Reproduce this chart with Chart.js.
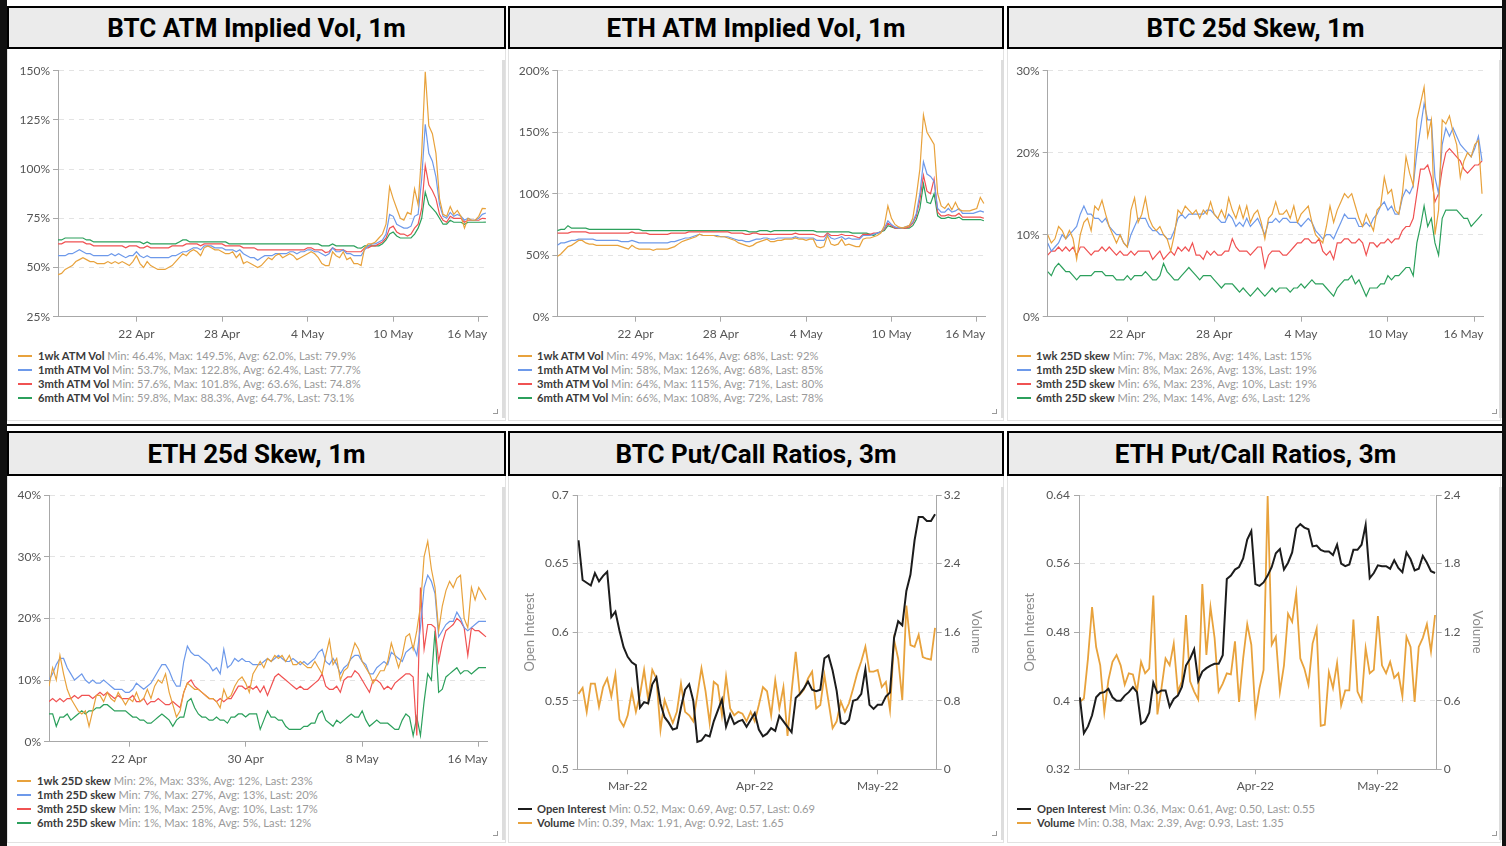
<!DOCTYPE html>
<html><head><meta charset="utf-8">
<script src="https://cdn.jsdelivr.net/npm/chart.js@4.4.1/dist/chart.umd.min.js"></script>
<style>
html,body{margin:0;padding:0;background:#fff;}
body{width:1506px;height:846px;position:relative;overflow:hidden;font-family:Lato,sans-serif;}
.blk{position:absolute;background:#111;}
.hdr{position:absolute;box-sizing:border-box;border:2px solid #000;background:#ebebeb;display:flex;align-items:center;justify-content:center;font:700 26px Roboto,sans-serif;color:#000;}
.bod{position:absolute;box-sizing:border-box;border:1px solid #e2e2e2;border-top:none;background:#fff;}
.sbar{position:absolute;background:#dddddd;width:3px;}
.grip{position:absolute;width:5px;height:5px;box-sizing:border-box;border-right:1.5px solid #999;border-bottom:1.5px solid #999;}
canvas{position:absolute;}
.legend{position:absolute;font:11.2px Lato,sans-serif;color:#9a9a9a;white-space:nowrap;}
.legend .row{height:14px;line-height:14px;position:relative;}
.legend .mk{position:absolute;left:0;top:6px;width:14px;height:2px;}
.legend .txt{position:absolute;top:0;}
.legend b{color:#3a3a3a;font-weight:700;}
</style></head>
<body>
<script>
// ================= DATA =================
// 1-month panels: 6-hourly samples starting 16 Apr 12:00 (x in days since 1 Apr 00:00)
const volStartDay = 15.5;
const volStepDays = 0.25;
const volTickDays = [21, 27, 33, 39, 45];
const volTickLabels = ['22 Apr', '28 Apr', '4 May', '10 May', '16 May'];
const ethSkewTickDays = [21, 29, 37, 45];
const ethSkewTickLabels = ['22 Apr', '30 Apr', '8 May', '16 May'];

const atmNames = ['1wk ATM Vol', '1mth ATM Vol', '3mth ATM Vol', '6mth ATM Vol'];
const skewNames = ['1wk 25D skew', '1mth 25D skew', '3mth 25D skew', '6mth 25D skew'];

const btcAtm1wk = [46.4,47,49,50,51,53,54,55,54,53, 53,52,52,52,53,52,53,52,53,52, 51,53,56,52,50,53,51,50,49,49,
  49,50,51,53,55,57,56,58,59,58, 56,60,61,60,59,59,58,57,57,58, 55,57,52,53,52,51,50,51,53,55, 54,56,57,55,56,57,56,54,55,56,
  57,58,57,55,52,51,51,58,56,55, 58,54,55,52,52,51,60,62,62,63, 65,67,72,91,85,80,75,74,78,77, 90,82,108,149.5,122,118,108,85,77,76,
  81,77,79,76,70,75,74,74,76,80, 79.9];
const btcAtm1mth = [56,56,56,57,57,58,59,58,57,57, 56,56,56,56,56,57,56,57,56,55, 56,56,58,56,55,56,55,55,55,55,
  55,55,56,56,57,58,58,59,60,60, 59,61,61,61,60,60,60,59,59,59, 58,59,57,56,55,55,53.7,55,56,56, 56,57,57,57,57,58,58,57,58,58,
  59,59,58,58,57,56,57,60,58,58, 59,57,57,56,56,56,59,61,62,62, 63,64,67,77,76,72,71,70,70,71, 76,77,95,122.8,108,104,96,82,76,75,
  78,76,77,76,74,75,74,74,75,77, 77.7];
const btcAtm3mth = [62,62,63,63,63,63,63,63,62,62, 61,61,61,61,61,61,61,61,61,60, 61,61,61,60,60,61,60,60,60,60,
  60,60,61,61,61,61,62,62,62,62, 61,62,62,62,62,62,62,61,61,61, 61,61,60,60,60,60,59,59,59,59, 59,59,59,59,59,59,59,59,59,59,
  60,60,59,59,59,57.6,58,60,59,59, 59,58,58,58,58,58,60,60,61,61, 62,63,65,70,71,68,67,67,66,67, 70,72,80,101.8,92,89,85,77,74,73,
  76,75,75,75,73,74,74,74,74,75, 74.8];
const btcAtm6mth = [64,64,65,65,65,65,65,65,64,64, 63,63,63,63,63,63,63,63,63,63, 63,63,63,63,62,63,62,62,62,62,
  62,62,62,62,63,64,64,63,63,63, 63,63,63,63,63,63,63,63,62,62, 62,62,62,62,62,62,62,62,62,62, 62,62,62,62,62,62,62,62,62,62,
  62,62,62,62,61,61,61,62,61,61, 61,61,61,61,60,59.8,61,61,61,61, 61,62,64,67,68,66,65,65,65,65, 67,70,75,88.3,82,80,78,75,72,72,
  74,73,73,73,72,73,73,73,73,73, 73.1];
const btcAtmStats = ['Min: 46.4%, Max: 149.5%, Avg: 62.0%, Last: 79.9%', 'Min: 53.7%, Max: 122.8%, Avg: 62.4%, Last: 77.7%',
  'Min: 57.6%, Max: 101.8%, Avg: 63.6%, Last: 74.8%', 'Min: 59.8%, Max: 88.3%, Avg: 64.7%, Last: 73.1%'];
const btcAtmTicks = [25, 50, 75, 100, 125, 150];

const ethAtm1wk = [49,51,54,57,58,60,62,62,60,59, 59,58,58,58,58,58,58,58,57,56, 55,58,56,55,55,55,55,54,55,55,
  55,55,56,57,59,61,62,63,64,65, 67,66,66,66,66,65,65,65,64,63, 62,60,59,58,57,58,60,61,62,63, 61,61,62,62,63,63,63,64,63,63,
  62,63,63,57,56,57,66,59,58,59, 63,58,59,58,57,57,63,64,64,65, 66,68,74,90,80,75,73,72,73,74, 80,98,120,164,150,145,140,100,90,88,
  92,87,93,87,86,86,86,87,88,97, 92];
const ethAtm1mth = [58,60,60,61,62,62,63,63,63,63, 63,62,62,62,62,62,62,62,61,61, 61,62,61,60,60,60,60,60,60,60,
  60,60,61,61,62,63,64,64,65,66, 67,66,66,66,66,66,65,65,65,64, 63,62,62,61,61,62,63,63,64,64, 63,63,64,64,64,64,64,65,64,64,
  64,64,64,62,62,62,67,64,63,64, 65,63,64,63,63,63,66,66,66,67, 68,69,72,78,75,73,72,72,73,74, 77,84,100,126,116,114,110,88,85,85,
  88,85,86,88,84,84,84,84,85,86, 85];
const ethAtm3mth = [68,68,68,68,69,69,69,69,69,68, 68,68,68,68,68,68,68,68,68,68, 68,69,68,68,68,68,67,67,67,67,
  67,67,68,68,68,68,68,69,69,69, 69,69,69,69,69,69,69,69,69,68, 68,68,68,67,67,68,68,67,67,67, 67,67,67,67,67,67,67,68,67,67,
  67,67,67,66,65,65,68,66,66,66, 67,66,66,66,65,64,67,67,67,68, 68,69,71,76,74,72,72,72,72,73, 76,82,95,115,102,100,112,85,82,82,
  83,82,82,84,81,81,81,81,81,81, 80];
const ethAtm6mth = [70,71,71,74,72,72,72,72,72,71, 71,71,71,71,71,71,71,71,71,71, 71,71,71,71,70,70,70,70,70,70,
  70,70,70,70,70,70,70,70,70,70, 70,70,70,70,70,70,70,70,70,70, 70,70,70,70,69,69,69,70,70,70, 69,70,70,70,70,70,70,70,70,70,
  70,70,70,69,69,69,69,69,69,69, 69,69,69,68,68,68,68,68,67,66, 68,69,70,74,73,72,72,72,72,72, 74,79,88,108,93,92,100,82,80,80,
  81,80,80,81,79,79,79,79,79,79, 78];
const ethAtmStats = ['Min: 49%, Max: 164%, Avg: 68%, Last: 92%', 'Min: 58%, Max: 126%, Avg: 68%, Last: 85%',
  'Min: 64%, Max: 115%, Avg: 71%, Last: 80%', 'Min: 66%, Max: 108%, Avg: 72%, Last: 78%'];
const ethAtmTicks = [0, 50, 100, 150, 200];

const btcSkew1wk = [10,9,9.5,11,10.5,9.5,10.5,9.5,7,10, 11.5,12,10.5,13.5,13,14.2,12.5,11,10,9, 10,9,8.5,13,14.5,11.5,12.5,14.5,12,11,
  10.5,11,10,9.5,8,10,13,12.5,13.5,13, 12.5,13,12,13,12.5,14,12.5,12,13,12, 14.5,13,12,13.5,12,13.5,11.5,12.5,13,11.5,
  9.5,12,12.5,14,12.5,12.5,13,12,13.5,11.5, 12.5,13,13.5,11.5,10,9.5,9,11,13.5,11.5, 13,14,15,14.5,15,13.5,12,11,12.5,11.5,
  10.5,13,13.5,17,15,15.5,13,12.5,15,19.5, 17.5,16,24,26,28,22,24,10,13,24, 23.5,24.5,22.5,21,17,19,20,19.5,21,21.5, 15];
const btcSkew1mth = [9,8,8.5,9,10,9.5,10,10.5,11,12.5, 13.5,12.5,12.5,12,12,11.5,12,11,10.5,10, 10,9,8.5,10,11,12,12,12,11,10.5,
  10.5,10,10,9.5,9.5,10.5,12,12.5,12,12.5, 12.5,12.5,12.5,12.5,13,13,12.5,12,11.5,11.5, 12.5,12,11,11.5,11,12,11,11.5,12,11,
  10,11.5,11.5,12,11.5,12,12,11.5,11.5,11.5, 11,11.5,12,11.5,10.5,10,9.5,10,10,9.5, 10.5,11.5,12.5,12,12,12,11,11,11.5,11,
  12,12.5,13.5,14,13,13.5,12.5,12.5,14.5,15.5, 15,16,20,23,26,24,24,17,15,21, 23,22,23,22,21,20.5,20,19.5,20.5,22, 19];
const btcSkew3mth = [7.5,8,8,8.5,8,8.5,8,8.5,7.5,8.5, 8.5,8,7.5,8,8,8.5,8,8.5,8,7.5, 8,7.5,7.5,8,7.5,8,8,8,8,7,
  7.5,8,7,7.5,8,7.5,8.5,8,8.5,8, 9,7.5,7.5,7,8,7.5,8,7.5,7.5,8, 8,9.5,8.5,8,8,8,7.5,8,8.5,8.5,
  6,7.5,8,8,8,7.5,7.5,8,8.5,9, 9,9.5,9.5,9,9,9.5,8,7.5,8,7, 9,9,9.5,9.5,9,9,9.5,9,7.5,9,
  9,8.5,9,9,9.5,9,9.5,9.5,10.5,11, 11,12,15,18,18,18.5,17,14,15,18, 20,20.5,20,19.5,19,18,17.5,18,18.5,18.5, 19];
const btcSkew6mth = [5.5,5,6,6.5,6,5.5,5.5,5,4.5,5, 5,5,5,5.5,5.5,5.5,5,5,5,4.5, 4.5,4.5,5,4.5,5,5,5,5.5,5,4.5,
  4.5,5,6.5,5.5,5,4.5,4.5,5,5.5,6, 5.5,5,4.5,5,5,5,4.5,4,3.5,4, 4,4,3.5,3,3.5,3,2.5,3,3.5,3,
  2.5,3,3.5,3,3.5,3.5,3.5,3,3.5,3.5, 4,3.5,4,4.5,4,4,4,3.5,3,2.5, 3.5,4,4.5,4.5,5,4,4.5,3.5,2.5,3.5,
  3.5,3.5,4,4,5,4.5,5,5,5.5,6, 6,5,9,11,13.5,11,12,9,7.5,12, 13,13,13,13,12.5,12,12,11,11.5,12, 12.5];
const btcSkewStats = ['Min: 7%, Max: 28%, Avg: 14%, Last: 15%', 'Min: 8%, Max: 26%, Avg: 13%, Last: 19%',
  'Min: 6%, Max: 23%, Avg: 10%, Last: 19%', 'Min: 2%, Max: 14%, Avg: 6%, Last: 12%'];
const btcSkewTicks = [0, 10, 20, 30];

const ethSkew1wk = [9,12,10,14,11,8.5,7,6,5,4.5, 5,2.5,5,7.5,7.5,6.5,8,7,6.5,8, 7,6,7,6.5,8,6.5,7,8.5,7,9,
  10,9.5,11,8,6,4,5,8,9.5,9, 8.5,8.5,8,7.5,7,7,6.5,5.5,8.5,7, 7.5,9,10,10.5,9.5,8,11,12,13,12,
  13.5,13,14,13.5,14,13,14,12.5,12.5,13, 12.5,12,12,13,12,11,14,16.5,12.5,13.5, 10,11.5,12,14,16,15,13,12,11,9.5,
  10.5,11.5,11.5,13,16,14,12,14,17,17.5, 15,18,22,30,32.5,28,25,18,22,24.5, 26,25,26.5,27,20,18.5,25,23,25,24, 23];
const ethSkew1mth = [10,11,12.5,13.5,13.5,12,11,10,10.5,11, 10,9.5,10,9.5,9.5,10,9.5,9,8.5,8.5, 8.5,8,8,8.5,9.5,9,8.5,9,9.5,10.5,
  11.5,12.5,12.5,11.5,10,9,9,13,15.5,14.5, 14,14,13.5,13,12.5,11.5,12,11,15,12, 12.5,13.5,13,13.5,13,13,12.5,12.5,12.5,13,
  13.5,13,13.5,14,13.5,13,13,13.5,13,12.5, 13,12.5,13,13.5,14.5,15,13,12.5,13.5,12.5, 11,12,12.5,13.5,14,14,13,12.5,11,11,
  12,12.5,13,12.5,14.5,14,13.5,13,14.5,15, 15.5,14,18.5,25,27,26,24,17,18,19, 19.5,19.5,21,20,18.5,18,18.5,19,19.5,19.5, 19.5];
const ethSkew3mth = [6.5,7,6.5,7,6.5,7,7,7.5,7,7.5, 7.5,7.5,7,7.5,8,7.5,8,7.5,7,7.5, 7,7,7,7.5,6.5,6.5,7,6,6.5,6.5,
  7,6.5,6,6,6.5,6,5.5,8,9.5,10, 9,8.5,8,7.5,7,7,6.5,7,6.5,7, 7,8,9,9,8.5,9,8.5,9,8,9,
  7.5,9,10.5,11,10.5,10,9.5,9,8.5,9, 8.5,8.5,9,9.5,10,11,9,8.5,8.5,9, 8,10,10.5,10.5,11.5,11,10,9,8,10,
  10,9.5,8.5,9,8.5,9.5,10,10.5,11,11, 10.5,1,25,15,19,19,18.5,13,16,18, 18.5,19,20,19.5,18.5,14,18.5,18,18,17.5, 17];
const ethSkew6mth = [4.5,4.5,2.5,4,4,4.5,3.5,4,4.5,5, 4.5,5,5,5.5,5.5,6,6,5.5,5,5, 5,5,4.5,4,4,3.5,3.5,3,3,3.5,
  4,4.5,4,3.5,2.5,3.5,4,4,6.5,7, 5.5,4.5,4,4,3.5,3.5,4,3.5,3.5,3, 4,4,4.5,4.5,4,4.5,4.5,4.5,2,3.5,
  5,4,4,3.5,3.5,2.5,2,2,2,2, 2.5,2.5,3,3,4.5,5,3.5,3,2.5,3.5, 3,3.5,4,4.5,4,4,5,3.5,2.5,3,
  3.5,3,3,3,2.5,2,2,3.5,4.5,4, 1,4,1,6.5,11,10,18,8,8.5,10.5, 11,11.5,12,11,11.5,11.5,11,11.5,12,12, 12];
const ethSkewStats = ['Min: 2%, Max: 33%, Avg: 12%, Last: 23%', 'Min: 7%, Max: 27%, Avg: 13%, Last: 20%',
  'Min: 1%, Max: 25%, Avg: 10%, Last: 17%', 'Min: 1%, Max: 18%, Avg: 5%, Last: 12%'];
const ethSkewTicks = [0, 10, 20, 30, 40];

// 3-month put/call panels: daily samples, x = days since 17 Feb 2022
const pcNames = ['Open Interest', 'Volume'];
const pcTickDays = [12, 43, 73];
const pcTickLabels = ['Mar-22', 'Apr-22', 'May-22'];
const btcPcOI = [0.667,0.638,0.636,0.634,0.643,0.637,0.641,0.644,0.611,0.615, 0.601,0.589,0.582,0.578,0.576,0.545,0.549,0.548,0.562,0.567,
  0.548,0.538,0.534,0.529,0.530,0.545,0.558,0.562,0.550,0.520, 0.521,0.525,0.524,0.535,0.543,0.551,0.531,0.540,0.533,0.535,
  0.536,0.531,0.536,0.541,0.529,0.524,0.526,0.530,0.528,0.539, 0.535,0.531,0.527,0.552,0.555,0.559,0.564,0.558,0.557,0.558,
  0.581,0.583,0.572,0.557,0.534,0.533,0.536,0.550,0.551,0.555, 0.573,0.547,0.544,0.547,0.547,0.553,0.556,0.596,0.608,0.605,
  0.630,0.642,0.667,0.684,0.684,0.681,0.681,0.686];
const btcPcVolume = [0.88,0.95,0.67,1.0,1.0,0.73,0.96,1.06,0.85,1.11, 0.58,0.50,0.63,0.91,0.67,0.87,1.16,0.81,1.16,1.06,
  0.46,0.81,0.67,0.54,0.67,1.0,0.67,0.63,0.56,0.87, 1.18,0.91,0.54,1.02,0.98,0.63,1.08,0.71,0.63,0.67,
  0.65,0.56,0.67,0.56,0.75,0.96,0.91,0.63,1.04,0.71, 0.96,0.39,0.91,1.37,0.87,0.93,1.06,1.14,0.71,0.75,
  1.10,0.79,0.48,0.56,0.79,0.67,0.77,0.94,1.12,1.26, 1.43,1.14,1.14,1.16,0.96,1.02,0.69,1.51,1.29,0.81,
  1.91,1.45,1.43,1.57,1.31,1.29,1.28,1.65];
const btcPcStats = ['Min: 0.52, Max: 0.69, Avg: 0.57, Last: 0.69', 'Min: 0.39, Max: 1.91, Avg: 0.92, Last: 1.65'];
const btcOITicks = [0.5, 0.55, 0.6, 0.65, 0.7];
const btcVolTicks = [0, 0.8, 1.6, 2.4, 3.2];

const ethPcOI = [0.404,0.362,0.370,0.383,0.404,0.409,0.410,0.414,0.404,0.400, 0.400,0.406,0.410,0.416,0.410,0.373,0.376,0.386,0.421,0.409,
  0.412,0.412,0.393,0.402,0.406,0.416,0.441,0.449,0.460,0.423, 0.434,0.438,0.441,0.443,0.443,0.453,0.542,0.546,0.553,0.556,
  0.566,0.588,0.598,0.536,0.534,0.538,0.546,0.556,0.572,0.577, 0.553,0.561,0.573,0.601,0.606,0.602,0.600,0.580,0.581,0.576,
  0.574,0.574,0.570,0.582,0.560,0.557,0.559,0.576,0.576,0.582, 0.605,0.543,0.549,0.558,0.557,0.557,0.554,0.564,0.555,0.550,
  0.573,0.565,0.552,0.554,0.569,0.561,0.551,0.549];
const ethPcVolume = [0.59,0.62,0.97,1.42,1.07,0.91,0.50,0.78,0.94,1.00, 0.91,0.74,0.84,0.83,0.68,0.94,0.84,0.88,1.52,0.48,
  0.71,0.97,0.91,1.10,0.68,0.77,1.35,0.77,0.68,0.61, 1.62,1.00,1.42,1.15,0.68,0.75,0.84,0.83,1.12,0.59,
  0.97,1.27,1.09,0.49,0.71,0.87,2.39,1.09,1.16,0.68, 0.91,1.36,1.29,1.54,0.97,0.88,0.74,1.10,1.23,0.38,
  0.39,0.85,0.71,0.93,0.56,0.69,0.69,1.31,0.68,0.60, 1.06,0.84,0.87,1.34,0.91,0.84,0.94,0.80,0.84,0.64,
  1.16,1.07,0.59,1.07,1.15,1.27,1.03,1.35];
const ethPcStats = ['Min: 0.36, Max: 0.61, Avg: 0.50, Last: 0.55', 'Min: 0.38, Max: 2.39, Avg: 0.93, Last: 1.35'];
const ethOITicks = [0.32, 0.4, 0.48, 0.56, 0.64];
const ethVolTicks = [0, 0.6, 1.2, 1.8, 2.4];

// ================= STYLE / LAYOUT =================
const TENOR_COLORS = ['#e8a23c', '#6d99ea', '#f05252', '#2ca05c'];
const PC_COLORS = ['#1c1c1c', '#e8a23c'];
const AXIS_COL = '#a8a8a8', GRID_COL = '#e3e3e3', TICK_TXT = '#555';
const FONT = 'Lato';

function el(cls, css, html) {
  const d = document.createElement('div');
  d.className = cls; Object.assign(d.style, css);
  if (html !== undefined) d.innerHTML = html;
  document.body.appendChild(d); return d;
}
const px = v => v + 'px';

// frame
const cols = [{x: 7, w: 499}, {x: 508, w: 496}, {x: 1007, w: 497}];
const rows = [{hy: 6, hh: 43, by: 49, bh: 372}, {hy: 431, hh: 45, by: 476, bh: 367}];
const titles = [['BTC ATM Implied Vol, 1m', 'ETH ATM Implied Vol, 1m', 'BTC 25d Skew, 1m'],
                ['ETH 25d Skew, 1m', 'BTC Put/Call Ratios, 3m', 'ETH Put/Call Ratios, 3m']];
rows.forEach((r, ri) => cols.forEach((c, ci) => {
  el('bod', {left: px(c.x), top: px(r.by), width: px(c.w - (ci === 2 ? 3 : 0)), height: px(r.bh)});
  el('hdr', {left: px(c.x), top: px(r.hy), width: px(c.w), height: px(r.hh)}, titles[ri][ci]);
  const sbx = [502, 1001, 1499][ci];
  el('sbar', {left: px(sbx), top: px(r.by + 11), height: px(r.bh - 14)});
  const gx = [493, 992, 1492][ci];
  el('grip', {left: px(gx), top: px(r.by + r.bh - 12)});
}));
el('blk', {left: '0px', top: '424px', width: '1506px', height: '2px'});
el('blk', {left: '0px', top: '0px', width: '7px', height: '846px'});
el('blk', {left: '1502px', top: '0px', width: '4px', height: '846px'});

// keep the last x-axis label inside the plot (right-aligned to the plot edge)
const clampLastLabel = {
  id: 'clampLastLabel',
  beforeDraw(chart) {
    const sc = chart.scales.x;
    if (!sc) return;
    const items = sc.getLabelItems();
    const last = items[items.length - 1];
    if (!last) return;
    const w = chart.ctx.measureText ? (() => { chart.ctx.save(); chart.ctx.font = last.font.string; const m = chart.ctx.measureText(last.label).width; chart.ctx.restore(); return m; })() : 0;
    const x = last.options.translation[0];
    if (x + w / 2 > chart.chartArea.right) {
      last.options.textAlign = 'right';
      last.options.translation = [chart.chartArea.right, last.options.translation[1]];
    }
  }
};

// ================= HELPERS =================
function series(vals, start, step, color, width, axis) {
  return {
    data: vals.map((v, i) => ({x: start + i * step, y: v})),
    borderColor: color, backgroundColor: color, borderWidth: width,
    pointRadius: 0, fill: false, tension: 0, yAxisID: axis || 'y'
  };
}
function xAxis(min, max, ticks, labels) {
  return {
    type: 'linear', position: 'bottom', min, max,
    afterBuildTicks: s => { s.ticks = ticks.map(v => ({value: v})); },
    afterFit: s => { s.height = 26; },
    ticks: {callback: (v, i) => labels[i], color: TICK_TXT, font: {family: FONT, size: 12}, padding: 5, maxRotation: 0, autoSkip: false},
    grid: {drawOnChartArea: false, drawTicks: true, tickLength: 5, tickColor: AXIS_COL, color: AXIS_COL},
    border: {display: true, color: AXIS_COL, width: 1}
  };
}
function yAxis(o) {
  return {
    type: 'linear', position: o.pos || 'left', min: o.ticks[0], max: o.ticks[o.ticks.length - 1],
    afterBuildTicks: s => { s.ticks = o.ticks.map(v => ({value: v})); },
    afterFit: s => { s.width = o.width; },
    ticks: {callback: v => o.fmt(v), color: TICK_TXT, font: {family: FONT, size: 12}, padding: o.tpad, autoSkip: false},
    grid: {drawOnChartArea: o.grid !== false, color: GRID_COL, lineWidth: 1, drawTicks: true, tickLength: 5, tickColor: AXIS_COL},
    border: {display: true, color: AXIS_COL, width: 1, dash: [5, 5]},
    title: o.title ? {display: true, text: o.title, color: '#8a8a8a', font: {family: FONT, size: 13}, padding: {top: o.titlePad, bottom: 0}} : {display: false}
  };
}
const pct = v => Math.round(v) + '%';
const num = v => String(+v.toFixed(2));

function makeChart(p) {
  const cv = document.createElement('canvas');
  cv.width = p.w; cv.height = p.h;
  Object.assign(cv.style, {left: px(p.left), top: px(p.top), width: px(p.w), height: px(p.h)});
  document.body.appendChild(cv);
  new Chart(cv.getContext('2d'), {
    type: 'line',
    data: {datasets: p.datasets},
    plugins: p.clamp ? [clampLastLabel] : [],
    options: {
      responsive: false, animation: false, devicePixelRatio: 1, normalized: true,
      layout: {padding: p.pad},
      plugins: {legend: {display: false}, tooltip: {enabled: false}},
      scales: p.scales
    }
  });
}
function legend(left, top, textOffset, names, colors, stats) {
  const lg = el('legend', {left: px(left), top: px(top)});
  names.forEach((n, i) => {
    const r = document.createElement('div'); r.className = 'row';
    r.innerHTML = '<span class="mk" style="background:' + colors[i] + '"></span><span class="txt" style="left:' + textOffset + 'px"><b>' +
      n + '</b> ' + stats[i] + '</span>';
    lg.appendChild(r);
  });
}

// ================= CHARTS =================
const VMIN = 15.5, VMAX = 45.6;
function tenorSets(arrs) {
  return arrs.map((a, i) => series(a, volStartDay, volStepDays, TENOR_COLORS[i], 1.2));
}

makeChart({left: 8, top: 52, w: 496, h: 296, pad: {left: 0, right: 14, top: 18.7, bottom: 5.3}, clamp: true,
  datasets: tenorSets([btcAtm1wk, btcAtm1mth, btcAtm3mth, btcAtm6mth]),
  scales: {x: xAxis(VMIN, VMAX, volTickDays, volTickLabels), y: yAxis({ticks: btcAtmTicks, width: 50, fmt: pct, tpad: 3})}});
legend(18, 349, 20, atmNames, TENOR_COLORS, btcAtmStats);

makeChart({left: 508, top: 52, w: 494, h: 296, pad: {left: 0, right: 13, top: 18.7, bottom: 5.3}, clamp: true,
  datasets: tenorSets([ethAtm1wk, ethAtm1mth, ethAtm3mth, ethAtm6mth]),
  scales: {x: xAxis(VMIN, VMAX, volTickDays, volTickLabels), y: yAxis({ticks: ethAtmTicks, width: 49.3, fmt: pct, tpad: 3})}});
legend(518, 349, 19, atmNames, TENOR_COLORS, ethAtmStats);

makeChart({left: 1008, top: 52, w: 492, h: 296, pad: {left: 0, right: 12.3, top: 18.7, bottom: 5.3}, clamp: true,
  datasets: tenorSets([btcSkew1wk, btcSkew1mth, btcSkew3mth, btcSkew6mth]),
  scales: {x: xAxis(VMIN, VMAX, volTickDays, volTickLabels), y: yAxis({ticks: btcSkewTicks, width: 39.7, fmt: pct, tpad: 3})}});
legend(1017, 349, 19, skewNames, TENOR_COLORS, btcSkewStats);

makeChart({left: 8, top: 478, w: 496, h: 294, pad: {left: 0, right: 15, top: 17, bottom: 4.3}, clamp: true,
  datasets: tenorSets([ethSkew1wk, ethSkew1mth, ethSkew3mth, ethSkew6mth]),
  scales: {x: xAxis(VMIN, VMAX, ethSkewTickDays, ethSkewTickLabels), y: yAxis({ticks: ethSkewTicks, width: 41, fmt: pct, tpad: 3})}});
legend(17, 774, 20, skewNames, TENOR_COLORS, ethSkewStats);

function pcSets(oi, vol) {
  return [series(oi, 0, 1, PC_COLORS[0], 2, 'y'), series(vol, 0, 1, PC_COLORS[1], 1.8, 'y1')];
}
makeChart({left: 508, top: 478, w: 494, h: 322, pad: {left: 0, right: 10.3, top: 17, bottom: 4.7},
  datasets: pcSets(btcPcOI, btcPcVolume),
  scales: {x: xAxis(-0.2, 87.4, pcTickDays, pcTickLabels),
    y: yAxis({ticks: btcOITicks, width: 69.7, fmt: num, tpad: 4, title: 'Open Interest', titlePad: 14}),
    y1: yAxis({pos: 'right', ticks: btcVolTicks, width: 55, fmt: num, tpad: 2, grid: false, title: 'Volume', titlePad: 8})}});
legend(518, 802, 19, pcNames, PC_COLORS, btcPcStats);

makeChart({left: 1008, top: 478, w: 492, h: 322, pad: {left: 0, right: 10.3, top: 17, bottom: 4.7},
  datasets: pcSets(ethPcOI, ethPcVolume),
  scales: {x: xAxis(-0.2, 87.4, pcTickDays, pcTickLabels),
    y: yAxis({ticks: ethOITicks, width: 71, fmt: num, tpad: 4, title: 'Open Interest', titlePad: 14}),
    y1: yAxis({pos: 'right', ticks: ethVolTicks, width: 53, fmt: num, tpad: 2, grid: false, title: 'Volume', titlePad: 4.6})}});
legend(1017, 802, 20, pcNames, PC_COLORS, ethPcStats);
</script>
</body></html>
